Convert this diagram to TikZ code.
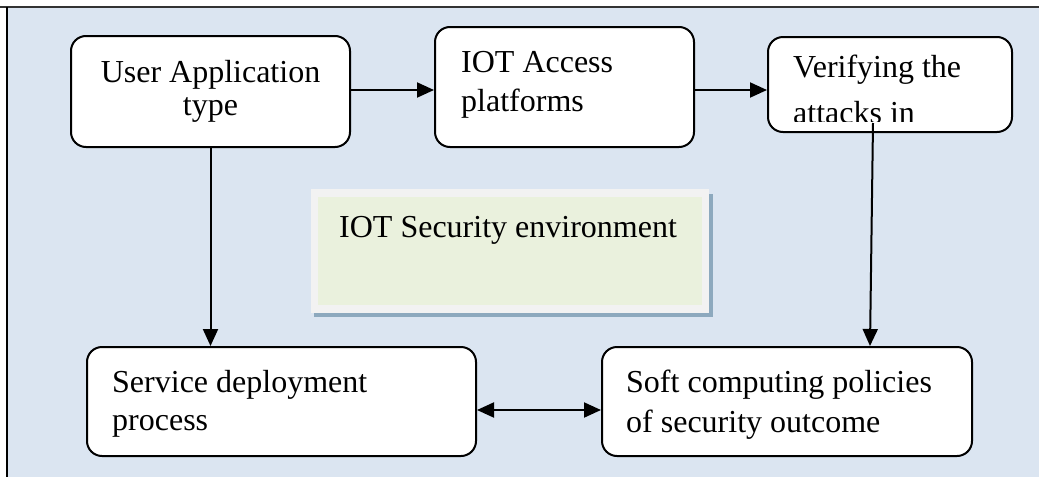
\documentclass[tikz,border=0pt]{standalone}
\usepackage{fontspec}
\setmainfont{Liberation Serif}
\usetikzlibrary{arrows.meta}
\definecolor{bgblue}{RGB}{219,229,241}
\definecolor{envgreen}{RGB}{234,241,221}
\definecolor{envgray}{RGB}{242,242,242}
\definecolor{envshadow}{RGB}{141,169,190}
\newcommand{\twoline}[3]{\vtop{\baselineskip=#3\lineskip=0pt\lineskiplimit=0pt\hbox{#1}\hbox{#2}}}
\newcommand{\twolinec}[3]{\vtop{\baselineskip=#3\lineskip=0pt\lineskiplimit=0pt\hbox to 0pt{\hss#1\hss}\hbox to 0pt{\hss#2\hss}}}
\tikzset{
  stepbox/.style={draw=black, line width=2pt, rounded corners=15pt, fill=white, inner sep=0pt},
  txt/.style={inner sep=0pt, anchor=base west, font=\fontsize{32}{38}\selectfont},
  arr/.style={line width=2pt, -{Triangle[length=17pt,width=15pt]}},
  arrb/.style={line width=2pt, {Triangle[length=17pt,width=15pt]}-{Triangle[length=17pt,width=15pt]}}
}
\begin{document}
\begin{tikzpicture}[x=1pt,y=-1pt]
\useasboundingbox (0,0) rectangle (1039,477);
% frame
\fill[bgblue] (7,7) rectangle (1039,477);
\draw[line width=1.2pt, black!80] (0,7) -- (1039,7);
\draw[line width=2pt, black] (7,7) -- (7,477);
% environment box
\fill[envshadow] (314,194) rectangle (712.5,316.5);
\node[draw=envgray, line width=7.5pt, fill=envgreen, minimum width=391pt, minimum height=116pt, inner sep=0pt] (env) at (510,251) {};
\node[txt] (envt) at (339,237) {IOT Security environment};
% boxes
\node[stepbox, minimum width=279pt, minimum height=111pt] (ua) at (210.5,91.5) {};
\node[stepbox, minimum width=259pt, minimum height=120pt] (iot) at (564.5,87) {};
\node[stepbox, minimum width=244pt, minimum height=95pt] (ver) at (890,84.5) {};
\node[stepbox, minimum width=389pt, minimum height=109pt] (svc) at (281.5,401.5) {};
\node[stepbox, minimum width=370pt, minimum height=109pt] (soft) at (787,401.5) {};
% texts
\node[txt, anchor=base] (uat) at (210.5,82) {\twolinec{User Application}{type}{33pt}};
\node[txt] (iott) at (461,72) {\twoline{IOT Access}{platforms}{39pt}};
\begin{scope}
\clip (768,37) rectangle (1012,121);
\node[txt] (vert) at (793,77) {\twoline{Verifying the}{attacks in}{46pt}};
\end{scope}
\node[txt] (svct) at (112,392) {\twoline{Service deployment}{process}{38pt}};
\node[txt] (softt) at (626,392) {\twoline{Soft computing policies}{of security outcome}{40pt}};
% connectors
\draw[arr] ([yshift=1.5pt]ua.east) -- ([yshift=1.5pt]ua.east -| iot.west);
\draw[arr] ([yshift=-3pt]iot.east) -- ([yshift=-3pt]iot.east -| ver.west);
\draw[arr] (ua.south) -- (ua.south |- svc.north);
\coordinate (vstart) at (873,123);
\draw[arr] (vstart) -- ([xshift=269pt]soft.north west);
\draw[arrb] ([yshift=-8.5pt]svc.east) -- ([yshift=-8.5pt]soft.west);
\end{tikzpicture}
\end{document}
